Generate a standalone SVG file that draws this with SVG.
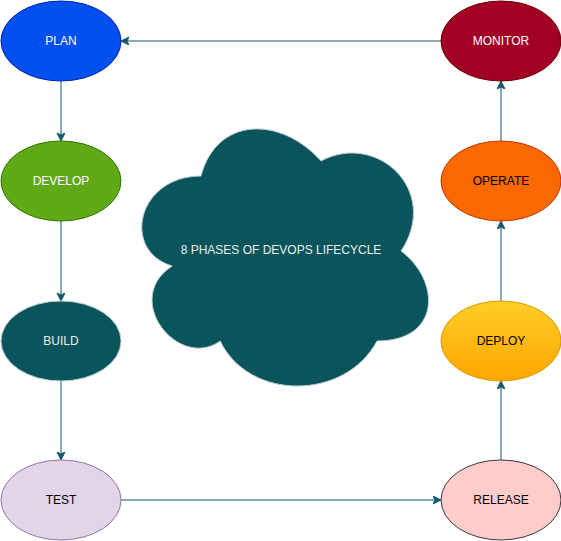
<svg xmlns="http://www.w3.org/2000/svg" width="561" height="541" viewBox="0 0 561 541">
<style>
text{font-family:"Liberation Sans",Arial,sans-serif;font-size:12px;text-anchor:middle;dominant-baseline:central}
.e{stroke-width:1}
.c{fill:none;stroke:#10596F;stroke-width:1;marker-end:url(#a)}
</style>
<defs>
<marker id="a" markerWidth="10" markerHeight="10" refX="7" refY="4" orient="auto" markerUnits="userSpaceOnUse">
<path d="M0,0 L8,4 L0,8 L2,4 Z" fill="#10596F" stroke="#10596F" stroke-width="1"/>
</marker>
<linearGradient id="g" x1="0" y1="0" x2="0" y2="1">
<stop offset="0" stop-color="#ffcd28"/><stop offset="1" stop-color="#ffa500"/>
</linearGradient>
</defs>
<rect width="561" height="541" fill="#ffffff"/>
<g id="connectors">
<path class="c" d="M441,41 L122,41"/>
<path class="c" d="M61,81 L61,140"/>
<path class="c" d="M61,221 L61,300"/>
<path class="c" d="M61,381 L61,459"/>
<path class="c" d="M121,500 L440,500"/>
<path class="c" d="M501,460 L501,382"/>
<path class="c" d="M501,301 L501,222"/>
<path class="c" d="M501,141 L501,82"/>
</g>
<g id="cloud">
<path d="M201,176 C137,176 121,251 172.2,266 C121,299 178.6,371 220.2,341 C249,401 345,401 377,341 C441,341 441,281 401,251 C441,191 377,131 321,161 C281,116 217,116 201,176 Z" fill="#09555B" stroke="#BAC8D3"/>
<text x="281" y="250" fill="#EEEEEE">8 PHASES OF DEVOPS LIFECYCLE</text>
</g>
<g id="plan"><ellipse class="e" cx="61" cy="41" rx="60" ry="40" fill="#0050ef" stroke="#001DBC"/><text x="61" y="41" fill="#ffffff">PLAN</text></g>
<g id="develop"><ellipse class="e" cx="61" cy="181" rx="60" ry="40" fill="#60a917" stroke="#2D7600"/><text x="61" y="181" fill="#ffffff">DEVELOP</text></g>
<g id="build"><ellipse class="e" cx="61" cy="341" rx="60" ry="40" fill="#09555B" stroke="#BAC8D3"/><text x="61" y="341" fill="#EEEEEE">BUILD</text></g>
<g id="test"><ellipse class="e" cx="61" cy="500" rx="60" ry="40" fill="#e1d5e7" stroke="#9673a6"/><text x="61" y="500" fill="#000000">TEST</text></g>
<g id="monitor"><ellipse class="e" cx="501" cy="41" rx="60" ry="40" fill="#a20025" stroke="#6F0000"/><text x="501" y="41" fill="#ffffff">MONITOR</text></g>
<g id="operate"><ellipse class="e" cx="501" cy="181" rx="60" ry="40" fill="#fa6800" stroke="#C73500"/><text x="501" y="181" fill="#000000">OPERATE</text></g>
<g id="deploy"><ellipse class="e" cx="501" cy="341" rx="60" ry="40" fill="url(#g)" stroke="#d79b00"/><text x="501" y="341" fill="#000000">DEPLOY</text></g>
<g id="release"><ellipse class="e" cx="501" cy="500" rx="60" ry="40" fill="#ffcccc" stroke="#36393d"/><text x="501" y="500" fill="#000000">RELEASE</text></g>
</svg>
